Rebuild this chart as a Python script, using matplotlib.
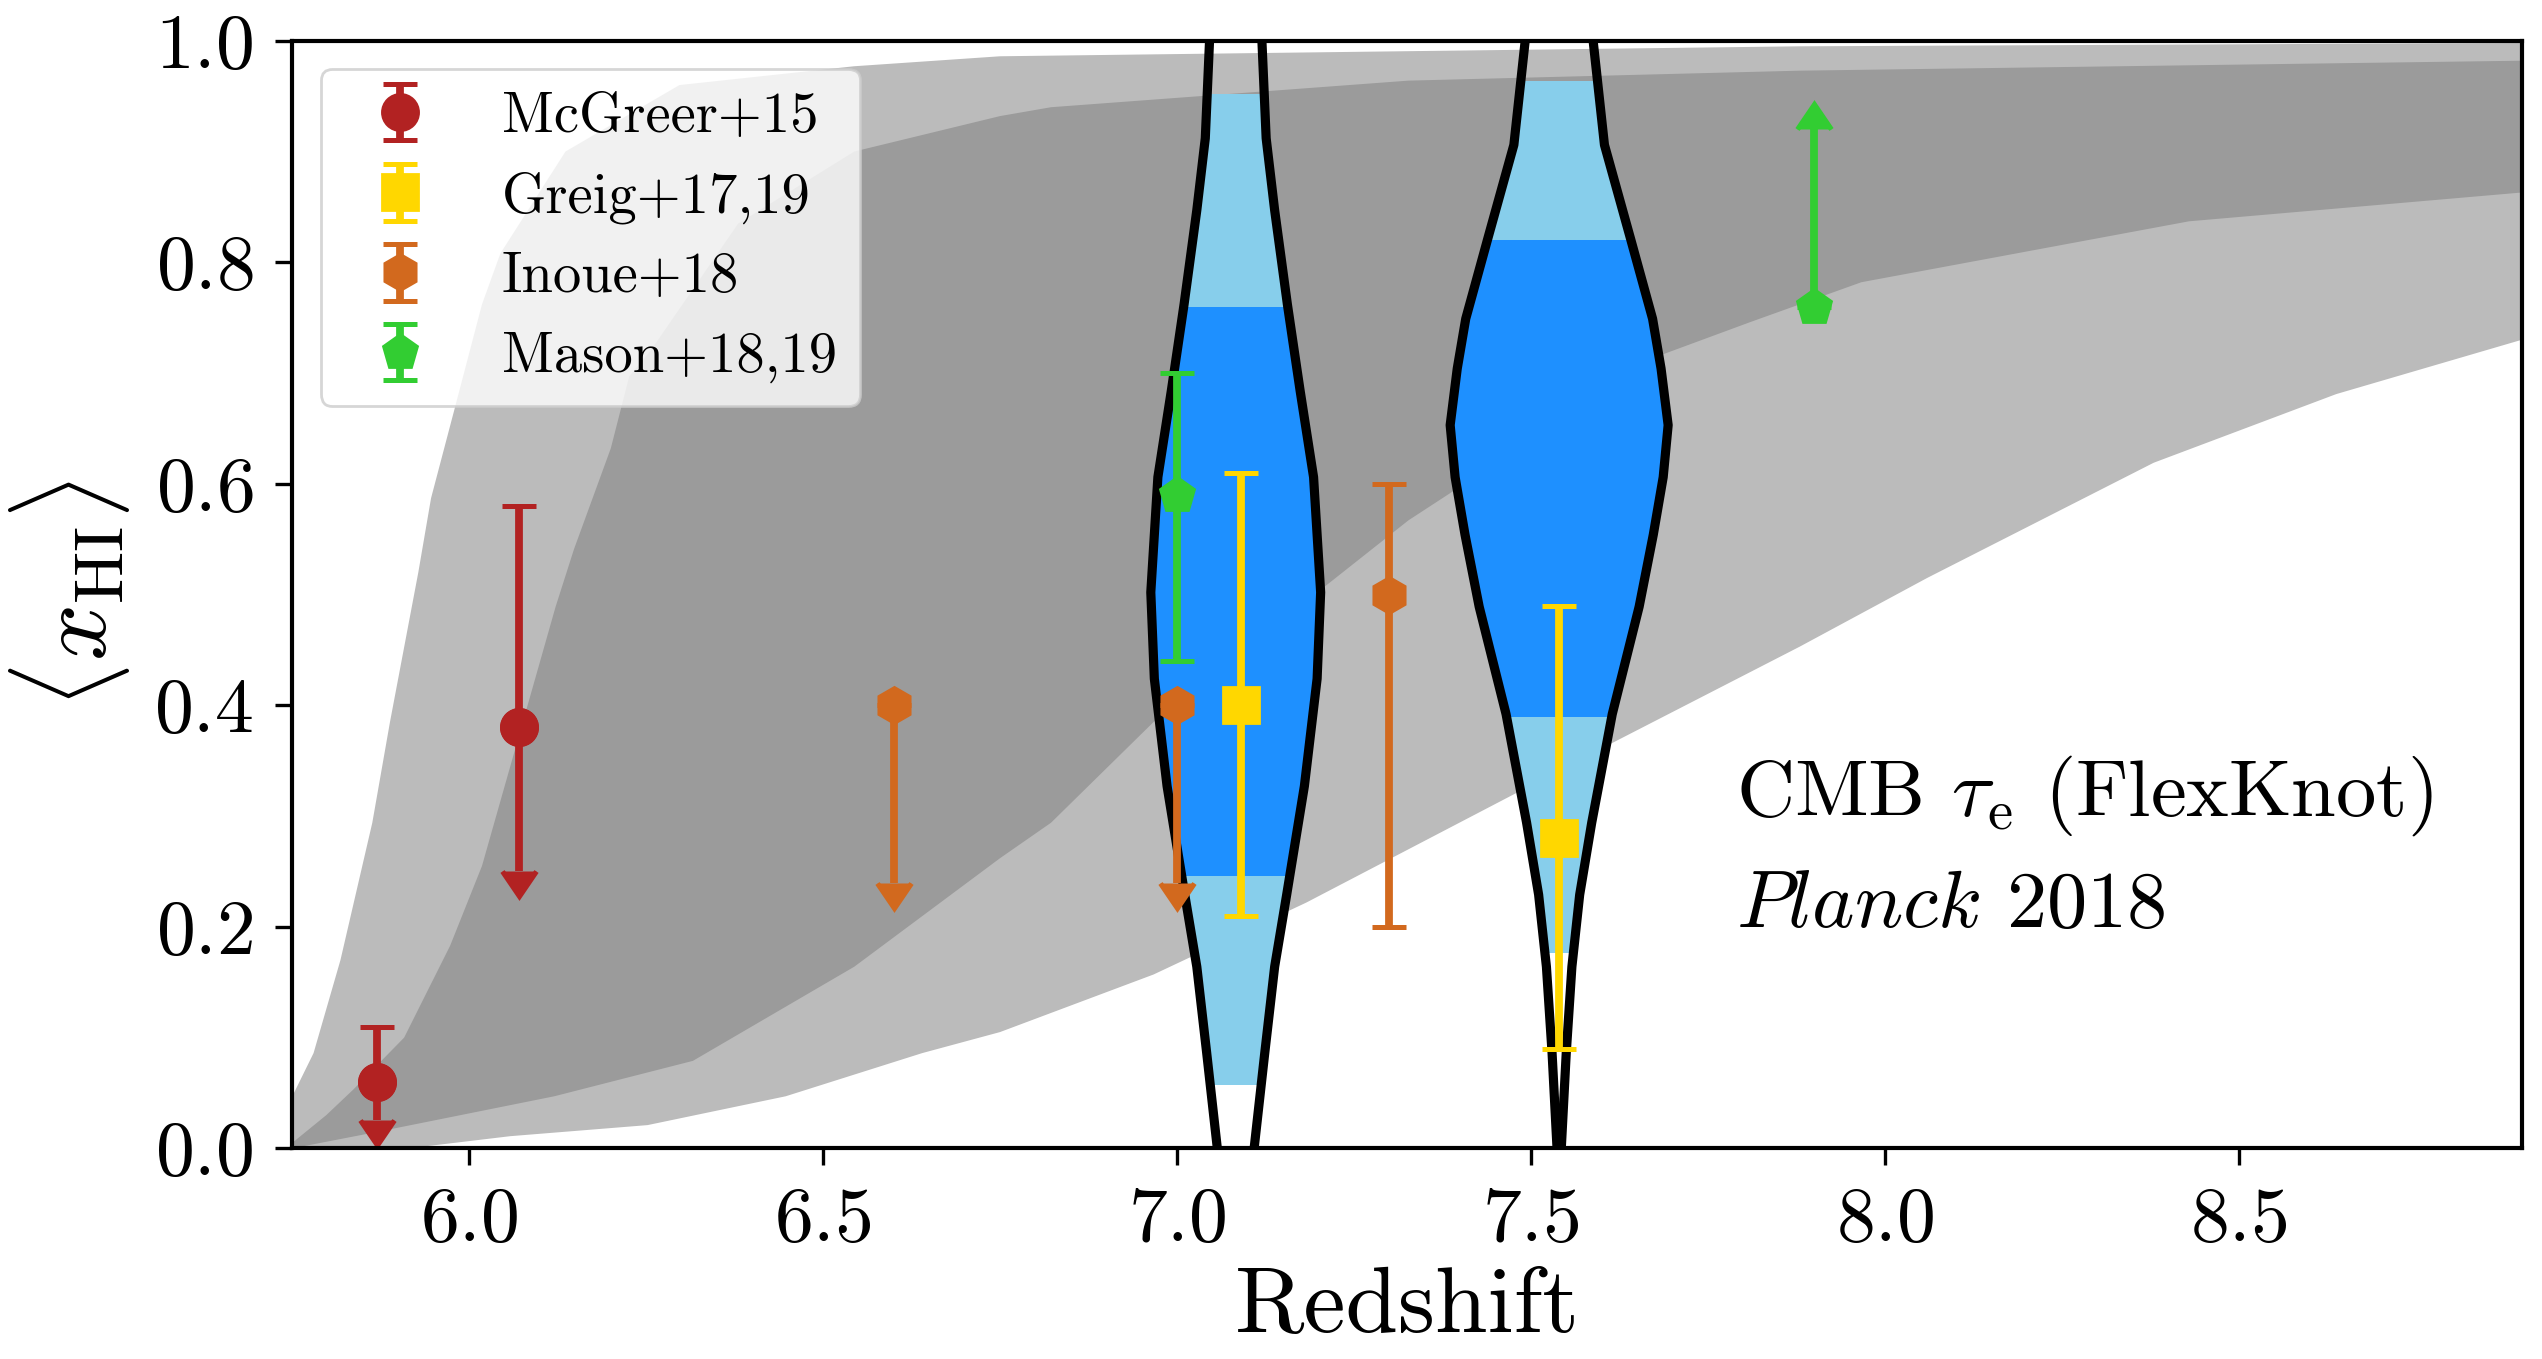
import numpy as np
import matplotlib
matplotlib.use('Agg')
import matplotlib.pyplot as plt
from matplotlib.patches import Rectangle

plt.rcParams['font.family'] = 'serif'
plt.rcParams['font.serif'] = ['cmr10']
plt.rcParams['mathtext.fontset'] = 'cm'
plt.rcParams['axes.formatter.use_mathtext'] = True

# FlexKnot constraints on <x_HI>(z): 95% (outer) and 68% (inner) bands
outer_hi_z = [5.75, 5.78, 5.818, 5.863, 5.888, 5.928, 5.946, 5.986, 6.018, 6.044,
              6.136, 6.297, 6.544, 6.75, 7.88, 8.9]
outer_hi_x = [0.047, 0.086, 0.17, 0.294, 0.385, 0.52, 0.587, 0.684, 0.762, 0.808,
              0.90, 0.96, 0.977, 0.986, 0.995, 0.998]
outer_lo_z = [5.75, 5.914, 6.058, 6.252, 6.447, 6.64, 6.75, 6.967, 7.183, 7.399,
              7.615, 7.88, 8.06, 8.38, 8.638, 8.9]
outer_lo_x = [0.0, 0.0, 0.011, 0.021, 0.047, 0.086, 0.105, 0.157, 0.222, 0.294,
              0.366, 0.453, 0.515, 0.619, 0.681, 0.73]

inner_hi_z = [5.75, 5.798, 5.836, 5.908, 5.973, 6.018, 6.07, 6.122, 6.148, 6.2,
              6.226, 6.256, 6.38, 6.544, 6.75, 6.822, 7.327, 7.88, 8.9]
inner_hi_x = [0.005, 0.03, 0.053, 0.10, 0.183, 0.255, 0.372, 0.489, 0.541, 0.632,
              0.697, 0.72, 0.835, 0.90, 0.932, 0.94, 0.964, 0.973, 0.982]
inner_lo_z = [5.75, 5.863, 6.12, 6.316, 6.544, 6.75, 6.822, 6.967, 7.327, 7.687,
              7.81, 7.967, 8.43, 8.9]
inner_lo_x = [0.0, 0.014, 0.047, 0.079, 0.164, 0.262, 0.294, 0.385, 0.567, 0.717,
              0.746, 0.782, 0.837, 0.863]

# Lyman-alpha based posteriors at z = 7.08 and 7.54 (half-width profiles)
violin1_z = 7.083
violin1_levels = [0.0, 0.086, 0.164, 0.229, 0.327, 0.424, 0.502, 0.606, 0.684,
                  0.762, 0.847, 0.912, 1.0]
violin1_width = [0.026, 0.041, 0.055, 0.072, 0.097, 0.115, 0.120, 0.110, 0.091,
                 0.073, 0.055, 0.043, 0.037]
violin1_95 = (0.058, 0.952)
violin1_68 = (0.247, 0.760)

violin2_z = 7.540
violin2_levels = [0.0, 0.086, 0.164, 0.229, 0.294, 0.392, 0.489, 0.554, 0.606,
                  0.653, 0.704, 0.749, 0.821, 0.906, 1.0]
violin2_width = [0.003, 0.010, 0.018, 0.029, 0.046, 0.075, 0.113, 0.133, 0.147,
                 0.154, 0.144, 0.132, 0.101, 0.064, 0.048]
violin2_95 = (0.177, 0.964)
violin2_68 = (0.390, 0.820)

# other constraints
mcgreer_z = [5.87, 6.07]
mcgreer_x = [0.06, 0.38]
mcgreer_up = [0.05, 0.20]
mcgreer_lim = [0.034, 0.13]

greig_z = [7.09, 7.54]
greig_x = [0.40, 0.28]
greig_lo = [0.19, 0.19]
greig_up = [0.21, 0.21]

inoue_lim_z = [6.6, 7.0]
inoue_lim_x = [0.40, 0.40]
inoue_lim = [0.16, 0.16]
inoue_z = [7.3]
inoue_x = [0.50]
inoue_lo = [0.30]
inoue_up = [0.10]

mason_z = [7.0]
mason_x = [0.59]
mason_lo = [0.15]
mason_up = [0.11]
mason_lim_z = [7.9]
mason_lim_x = [0.76]
mason_lim = [0.16]

light_grey = '#bbbbbb'
dark_grey = '#9b9b9b'

fig = plt.figure(figsize=(12.71, 6.795), dpi=200)
ax = fig.add_axes([0.115, 0.155, 0.877, 0.815])

ax.fill(outer_hi_z + outer_lo_z[::-1], outer_hi_x + outer_lo_x[::-1],
        color=light_grey, lw=0, zorder=1)
ax.fill(inner_hi_z + inner_lo_z[::-1], inner_hi_x + inner_lo_x[::-1],
        color=dark_grey, lw=0, zorder=1.1)


def draw_violin(zc, levels, width, r95, r68):
    levels = np.array(levels)
    width = np.array(width)
    for (lo, hi), col in [(r95, 'skyblue'), (r68, 'dodgerblue')]:
        poly = ax.fill_betweenx(levels, zc - width, zc + width, color=col, lw=0, zorder=2)
        clip = Rectangle((zc - 0.5, lo), 1.0, hi - lo, transform=ax.transData)
        poly.set_clip_path(clip)
    ax.plot(zc - width, levels, color='k', lw=3.3, zorder=3, solid_capstyle='butt')
    ax.plot(zc + width, levels, color='k', lw=3.3, zorder=3, solid_capstyle='butt')


draw_violin(violin1_z, violin1_levels, violin1_width, violin1_95, violin1_68)
draw_violin(violin2_z, violin2_levels, violin2_width, violin2_95, violin2_68)

eb = dict(ls='none', ms=13, elinewidth=2.8, capsize=6, capthick=1.8, zorder=5)

c_mcg = 'firebrick'
c_gre = 'gold'
c_ino = 'chocolate'
c_mas = 'limegreen'

h_mcg = ax.errorbar(mcgreer_z, mcgreer_x, yerr=[[0, 0], mcgreer_up], fmt='o',
                    color=c_mcg, label='McGreer+15', **eb)
ax.errorbar(mcgreer_z, mcgreer_x, yerr=mcgreer_lim, uplims=True, fmt='o',
            color=c_mcg, **eb)

h_gre = ax.errorbar(greig_z, greig_x, yerr=[greig_lo, greig_up], fmt='s',
                    color=c_gre, label='Greig+17,19', **eb)

h_ino = ax.errorbar(inoue_z, inoue_x, yerr=[inoue_lo, inoue_up], fmt='h',
                    color=c_ino, label='Inoue+18', **eb)
ax.errorbar(inoue_lim_z, inoue_lim_x, yerr=inoue_lim, uplims=True, fmt='h',
            color=c_ino, **eb)

h_mas = ax.errorbar(mason_z, mason_x, yerr=[mason_lo, mason_up], fmt='p',
                    color=c_mas, label='Mason+18,19', **eb)
ax.errorbar(mason_lim_z, mason_lim_x, yerr=mason_lim, lolims=True, fmt='p',
            color=c_mas, **eb)

ax.text(7.79, 0.30, r'CMB $\tau_{\rm e}$ (FlexKnot)', fontsize=29)
ax.text(7.79, 0.20, r'$Planck$ 2018', fontsize=29)

ax.set_xlim(5.75, 8.9)
ax.set_ylim(0.0, 1.0)
ax.set_xticks([6.0, 6.5, 7.0, 7.5, 8.0, 8.5])
ax.set_yticks([0.0, 0.2, 0.4, 0.6, 0.8, 1.0])
ax.tick_params(labelsize=28, length=6, width=1.2, pad=8)
for s in ax.spines.values():
    s.set_linewidth(1.5)
    s.set_zorder(6)

ax.set_xlabel('Redshift', fontsize=34, labelpad=4)
ax.set_ylabel(r'$\langle x_{\rm HI}\rangle$', fontsize=36, labelpad=8)

ax.legend(handles=[h_mcg, h_gre, h_ino, h_mas], loc='upper left', fontsize=20.4)

fig.savefig('out.png', dpi=200)
